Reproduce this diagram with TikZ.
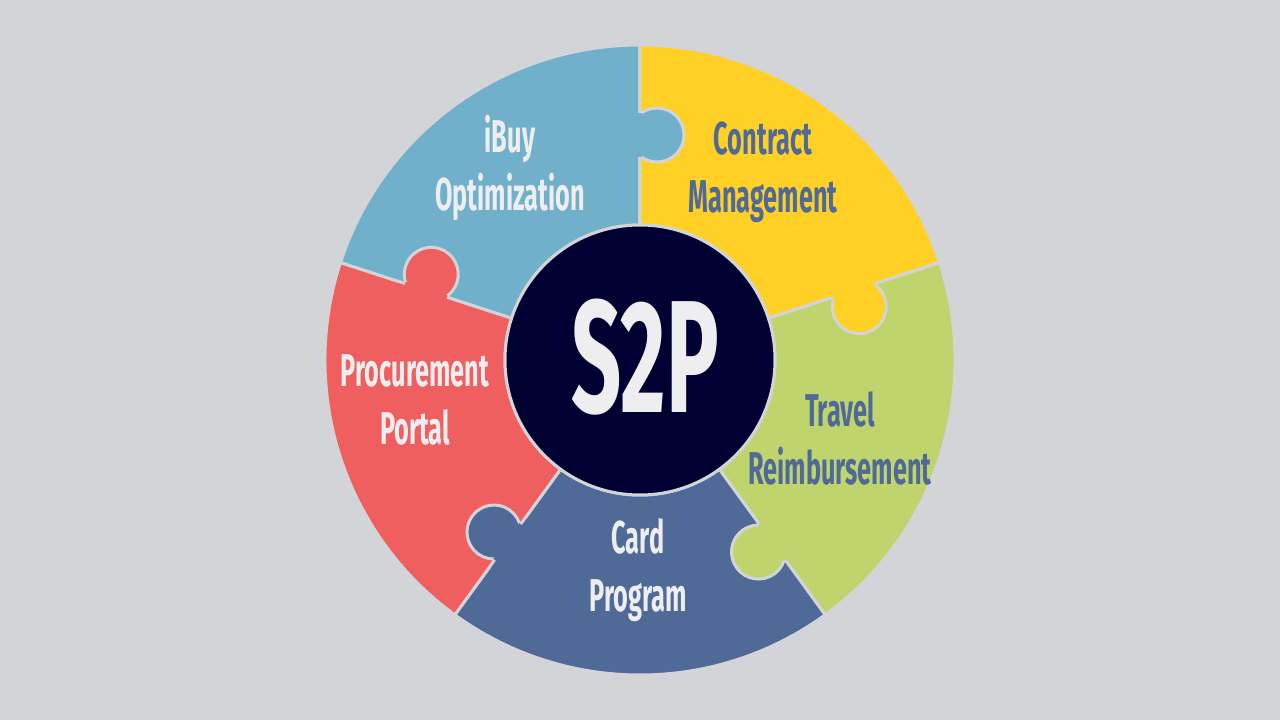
\documentclass[tikz,border=0pt]{standalone}
\usepackage{fontspec}
\setmainfont{Fira Sans}
\definecolor{bgray}{HTML}{D3D4D8}
\definecolor{skyb}{HTML}{70B0CA}
\definecolor{sunny}{HTML}{FFD126}
\definecolor{lime}{HTML}{BFD46C}
\definecolor{slate}{HTML}{506A98}
\definecolor{coral}{HTML}{EF5F5F}
\definecolor{navy}{HTML}{000033}
\definecolor{paper}{HTML}{EEEEF0}
\tikzset{
  piece/.style={draw=bgray, line width=3pt, line join=round},
  label/.style={align=center, font=\fontsize{46}{58}\selectfont\bfseries, xscale=0.55},
}
\newcommand{\sector}[3]{% color, start, end
  \filldraw[piece, fill=#1] (#2:135) -- (#2:315) arc[start angle=#2, end angle=#3, radius=315]
    -- (#3:135) arc[start angle=#3, end angle=#2, radius=135] -- cycle;}
\newcommand{\knob}[3]{% color, boundary angle, side
  \begin{scope}[rotate=#2]
    \filldraw[piece, fill=#1] (225,#3*17) circle[radius=27];
    \fill[#1] (195,-#3*1.6) rectangle (255,-#3*12);
    \draw[#1, line width=3.6pt] (203,0) -- (247,0);
  \end{scope}}
\begin{document}
\begin{tikzpicture}[x=1pt,y=1pt]
\useasboundingbox[fill=bgray] (-640,-360) rectangle (640,360);

% ring pieces
\sector{skyb}{90}{162}
\sector{sunny}{18}{90}
\sector{lime}{-54}{18}
\sector{slate}{-126}{-54}
\sector{coral}{162}{234}

% puzzle knobs
\knob{skyb}{90}{-1}
\knob{sunny}{18}{-1}
\knob{lime}{-54}{-1}
\knob{slate}{-126}{-1}
\knob{coral}{162}{-1}

% hub
\node[circle, fill=navy, draw=bgray, line width=3pt, minimum size=270pt, inner sep=0pt] (hub) at (0,0) {};
\node[font=\fontsize{160}{160}\selectfont\bfseries, text=paper, xscale=0.55] (s2p) at (5,3) {S2P};

% labels
\node[label, text=paper] (ibuy) at (-130,192) {iBuy\\Optimization};
\node[label, text=slate] (contract) at (123,188) {Contract\\Management};
\node[label, text=slate] (travel) at (200,-78) {Travel\\Reimbursement};
\node[label, text=paper] (card) at (-2,-210) {Card\\Program};
\node[label, text=paper] (portal) at (-225,-40) {Procurement\\Portal};
\end{tikzpicture}
\end{document}
